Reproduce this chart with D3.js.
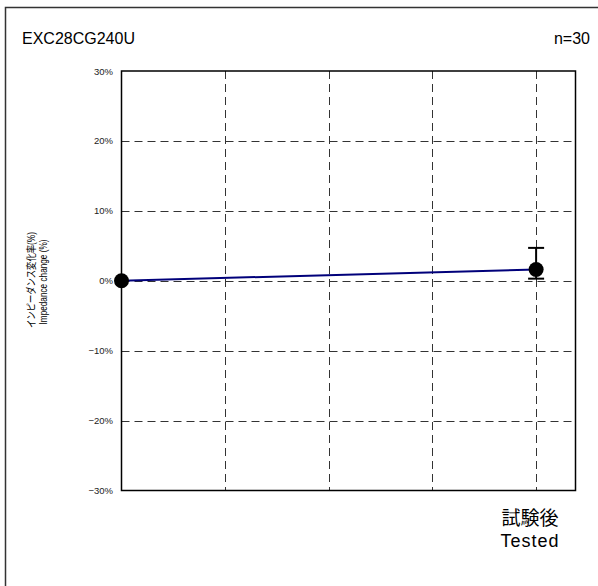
<!DOCTYPE html>
<html>
<head>
<meta charset="utf-8">
<script src="https://cdn.jsdelivr.net/npm/d3@7"></script>
<style>
  body { margin: 0; background: #fff; }
  text { font-family: "Liberation Sans", Arial, "Noto Sans CJK JP", sans-serif; }
</style>
</head>
<body>
<svg id="chart" width="598" height="586"></svg>
<script>
const title = 'EXC28CG240U';
const sampleCount = 'n=30';
const positions = [0, 4];
const values = [0, 1.6];
const errUpper = [0, 4.7];
const errLower = [0, 0.3];
const yTicks = [-30, -20, -10, 0, 10, 20, 30];
const xGrid = [1, 2, 3, 4];
const xLabelJa = '試験後';
const xLabelEn = 'Tested';
const yLabelJa = 'インピーダンス変化率(%)';
const yLabelEn = 'Impedance change (%)';

const svg = d3.select('#chart');
const plot = { left: 121.5, right: 575.5, top: 71, bottom: 490.5 };

const x = d3.scaleLinear().domain([0, 4.38]).range([plot.left, plot.right]);
const y = d3.scaleLinear().domain([-30, 30]).range([plot.bottom, plot.top]);

// outer frame
svg.append('rect')
  .attr('x', 5.5).attr('y', 7.5)
  .attr('width', 620).attr('height', 620)
  .attr('fill', 'none').attr('stroke', '#333').attr('stroke-width', 1.5);

svg.append('text').attr('x', 22).attr('y', 44)
  .attr('font-size', 16).text(title);
svg.append('text').attr('x', 590).attr('y', 44)
  .attr('font-size', 16).attr('text-anchor', 'end').text(sampleCount);

// grid
svg.append('g').selectAll('line')
  .data(yTicks.filter((d) => d > -30 && d < 30))
  .join('line')
  .attr('x1', plot.left).attr('x2', plot.right)
  .attr('y1', (d) => Math.round(y(d)) + 0.5).attr('y2', (d) => Math.round(y(d)) + 0.5)
  .attr('stroke', '#333').attr('stroke-dasharray', '8,5');

svg.append('g').selectAll('line')
  .data(xGrid)
  .join('line')
  .attr('x1', (d) => Math.round(x(d)) + 0.5).attr('x2', (d) => Math.round(x(d)) + 0.5)
  .attr('y1', plot.top).attr('y2', plot.bottom)
  .attr('stroke', '#333').attr('stroke-dasharray', '8,5');

svg.append('rect')
  .attr('x', plot.left).attr('y', plot.top)
  .attr('width', plot.right - plot.left).attr('height', plot.bottom - plot.top)
  .attr('fill', 'none').attr('stroke', '#000').attr('stroke-width', 1.5);

// y tick labels
svg.append('g').selectAll('text')
  .data(yTicks)
  .join('text')
  .attr('x', 113).attr('y', (d) => y(d) + 3.5)
  .attr('text-anchor', 'end').attr('font-size', 9.5)
  .attr('fill', '#222')
  .text((d) => (d < 0 ? `\u2212${-d}%` : `${d}%`));

// y axis title
svg.append('text')
  .attr('transform', 'translate(35,280) rotate(-90)')
  .attr('text-anchor', 'middle').attr('font-size', 10.5)
  .attr('textLength', 96).attr('lengthAdjust', 'spacingAndGlyphs')
  .text(yLabelJa);
svg.append('text')
  .attr('transform', 'translate(47,282) rotate(-90)')
  .attr('text-anchor', 'middle').attr('font-size', 10.5)
  .attr('textLength', 85).attr('lengthAdjust', 'spacingAndGlyphs')
  .text(yLabelEn);

// line
const line = d3.line().x((d, i) => x(positions[i])).y((d) => y(d));
svg.append('path').datum(values)
  .attr('d', line)
  .attr('fill', 'none').attr('stroke', '#00007a').attr('stroke-width', 2);

// error bars
positions.forEach((p, i) => {
  if (errUpper[i] === errLower[i]) return;
  const cx = x(p);
  svg.append('line')
    .attr('x1', cx).attr('x2', cx)
    .attr('y1', y(errUpper[i])).attr('y2', y(errLower[i]))
    .attr('stroke', '#000').attr('stroke-width', 2);
  [errUpper[i], errLower[i]].forEach((v) => {
    svg.append('line')
      .attr('x1', cx - 8).attr('x2', cx + 8)
      .attr('y1', y(v)).attr('y2', y(v))
      .attr('stroke', '#000').attr('stroke-width', 2);
  });
});

// markers
svg.append('g').selectAll('circle')
  .data(values)
  .join('circle')
  .attr('cx', (d, i) => x(positions[i])).attr('cy', (d) => y(d))
  .attr('r', 7.5).attr('fill', '#000');

// x labels
svg.append('text').attr('x', x(4) - 6).attr('y', 525)
  .attr('text-anchor', 'middle').attr('font-size', 19)
  .attr('font-family', '"Noto Sans CJK JP", sans-serif')
  .text(xLabelJa);
svg.append('text').attr('x', x(4) - 6).attr('y', 547)
  .attr('text-anchor', 'middle').attr('font-size', 18)
  .attr('letter-spacing', 1)
  .text(xLabelEn);
</script>
</body>
</html>
